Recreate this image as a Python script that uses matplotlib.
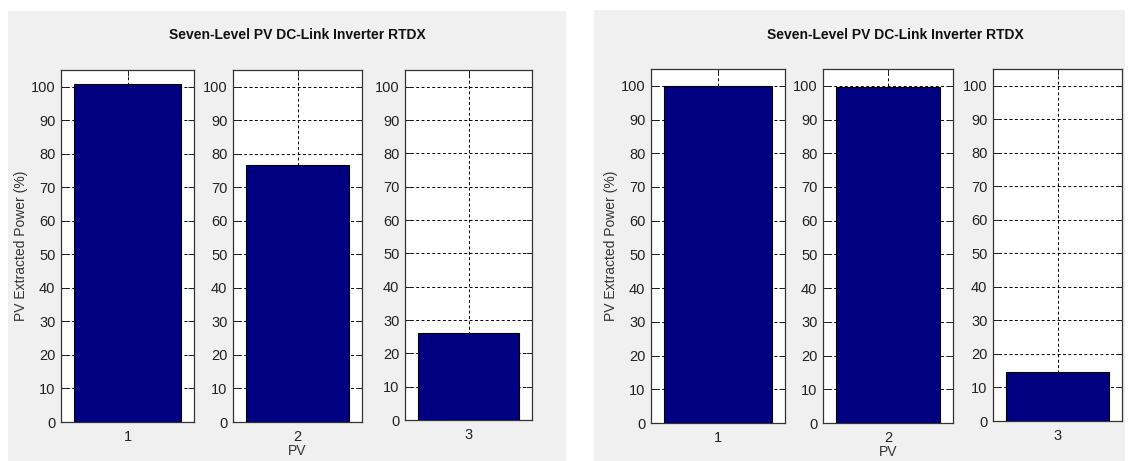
import matplotlib.pyplot as plt
import matplotlib.patches as patches

W, H = 1147, 461

pv_ids = [1, 2, 3]
yticks = list(range(0, 101, 10))
title_text = 'Seven-Level PV DC-Link Inverter RTDX'
ylabel_text = 'PV Extracted Power (%)'
xlabel_text = 'PV'

# extracted power per PV string, two test cases
left_power = [100.8, 76.8, 26.0]
right_power = [100.0, 99.8, 14.5]

font = ['Liberation Sans', 'DejaVu Sans']
plt.rcParams['font.family'] = font


def px_axes(fig, x0, x1, top, bottom):
	return fig.add_axes([x0 / W, 1 - bottom / H, (x1 - x0) / W, (bottom - top) / H])


def plot_panel(fig, boxes, values, panel, title_x):
	# grey figure background behind each set of bars
	x0, y0, x1 = panel
	fig.patches.append(patches.Rectangle((x0 / W, 0), (x1 - x0) / W, 1 - y0 / H,
		transform=fig.transFigure, facecolor='#f0f0f0', edgecolor='none', zorder=-5))

	axes = []
	for i, (box, v) in enumerate(zip(boxes, values)):
		ax = px_axes(fig, *box)
		ax.bar([pv_ids[i]], [v], width=0.8, color='#000080', edgecolor='black',
			linewidth=0.8, zorder=3)
		ax.set_xlim(pv_ids[i] - 0.5, pv_ids[i] + 0.5)
		ax.set_ylim(0, 105)
		ax.set_xticks([pv_ids[i]])
		ax.set_yticks(yticks)
		ax.grid(True, color='black', linestyle=(0, (3, 2.5)), linewidth=0.7)
		ax.set_axisbelow(True)
		ax.tick_params(direction='in', length=4, width=0.7, top=True, right=True,
			colors='#222222', labelsize=10.5, pad=4)
		ax.tick_params(axis='x', pad=6)
		for s in ax.spines.values():
			s.set_linewidth(0.9)
			s.set_color('#333333')
		axes.append(ax)

	axes[0].set_ylabel(ylabel_text, fontsize=10, color='#333333', labelpad=2)
	axes[1].set_xlabel(xlabel_text, fontsize=10, color='#333333', labelpad=0)
	fig.text(title_x / W, 1 - 35 / H, title_text, ha='center', va='center',
		fontweight='bold', fontsize=10, color='#111111')
	return axes


fig = plt.figure(figsize=(W / 100, H / 100), dpi=100)
fig.patch.set_facecolor('white')

left_boxes = [(61, 194, 70, 422), (233, 362, 70, 422), (405, 532, 70, 420)]
right_boxes = [(651, 785, 69, 423), (823, 953, 69, 423), (993, 1122, 69, 421)]

plot_panel(fig, left_boxes, left_power, (8, 11, 566), 297)
plot_panel(fig, right_boxes, right_power, (594, 10, 1125), 895)

fig.savefig('out.png', dpi=100)
